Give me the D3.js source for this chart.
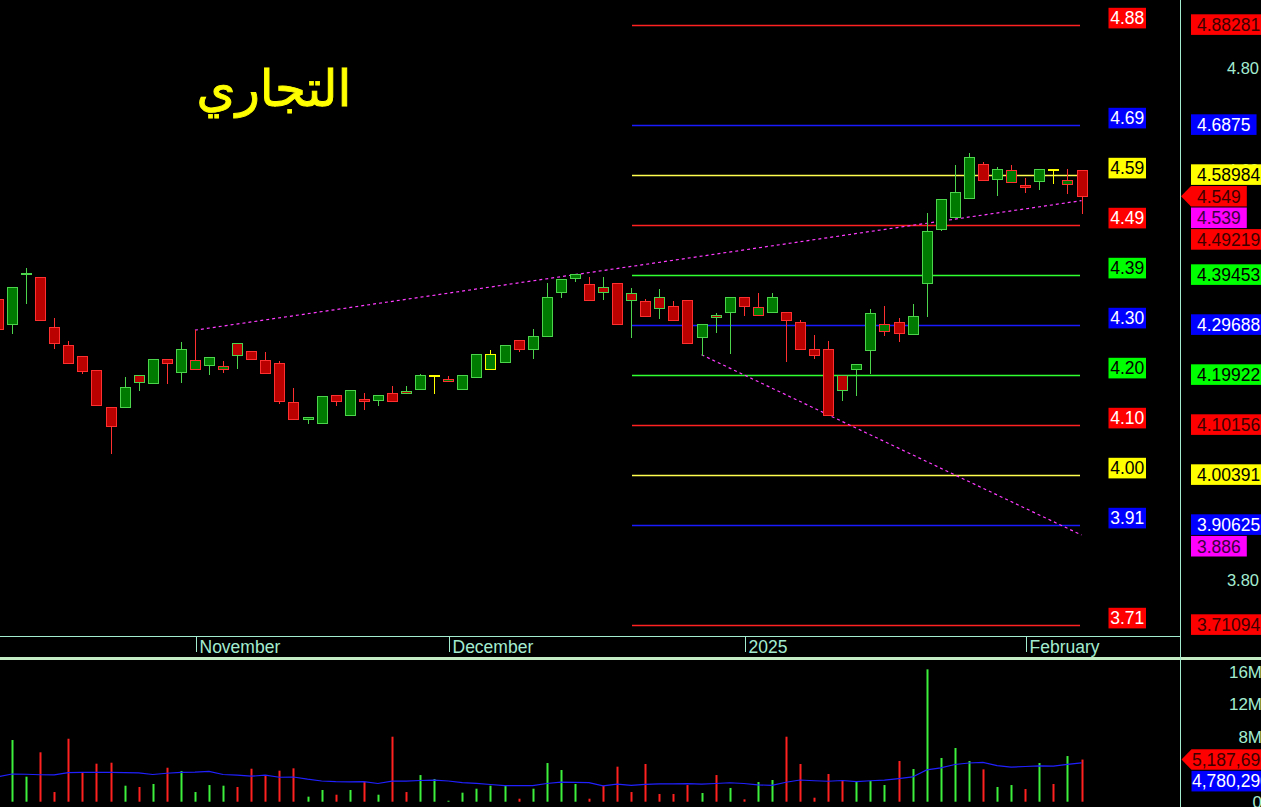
<!DOCTYPE html>
<html><head><meta charset="utf-8">
<script src="https://cdn.jsdelivr.net/npm/d3@7"></script>
<style>html,body{margin:0;padding:0;background:#000;overflow:hidden}svg{display:block}</style>
</head><body>
<svg id="chart" width="1261" height="807"></svg>
<script>
// ---------------- DATA ----------------
const title = "التجاري";
const opens  = [4.347,4.299,4.397,4.390,4.292,4.258,4.235,4.208,4.136,4.135,4.198,4.182,4.229,4.205,4.210,4.217,4.211,4.260,4.245,4.227,4.221,4.145,4.113,4.105,4.159,4.121,4.152,4.150,4.163,4.167,4.172,4.197,4.187,4.172,4.195,4.210,4.224,4.267,4.250,4.275,4.361,4.387,4.376,4.370,4.378,4.358,4.342,4.350,4.333,4.345,4.273,4.315,4.322,4.350,4.315,4.322,4.321,4.301,4.249,4.249,4.198,4.210,4.247,4.284,4.301,4.278,4.379,4.483,4.508,4.545,4.611,4.581,4.575,4.570,4.577,4.600,4.571,4.598];
const highs  = [4.350,4.370,4.407,4.390,4.309,4.265,4.235,4.208,4.136,4.194,4.198,4.229,4.229,4.262,4.286,4.233,4.226,4.260,4.245,4.243,4.226,4.174,4.116,4.158,4.159,4.169,4.164,4.159,4.177,4.176,4.201,4.198,4.196,4.198,4.239,4.247,4.258,4.267,4.288,4.379,4.385,4.395,4.389,4.389,4.378,4.368,4.346,4.366,4.342,4.345,4.299,4.319,4.350,4.350,4.358,4.358,4.321,4.305,4.276,4.264,4.198,4.219,4.327,4.333,4.309,4.337,4.514,4.543,4.609,4.632,4.614,4.605,4.609,4.583,4.600,4.600,4.600,4.598];
const lows   = [4.285,4.281,4.340,4.305,4.252,4.222,4.202,4.139,4.047,4.135,4.169,4.182,4.183,4.185,4.210,4.200,4.205,4.213,4.229,4.203,4.144,4.113,4.105,4.105,4.140,4.121,4.133,4.140,4.148,4.163,4.172,4.163,4.187,4.172,4.195,4.210,4.224,4.245,4.232,4.275,4.351,4.383,4.344,4.347,4.299,4.273,4.314,4.309,4.305,4.260,4.238,4.282,4.242,4.315,4.315,4.322,4.225,4.249,4.231,4.120,4.150,4.159,4.202,4.276,4.264,4.278,4.314,4.481,4.508,4.545,4.580,4.550,4.575,4.556,4.562,4.573,4.553,4.514];
const closes = [4.288,4.370,4.398,4.305,4.260,4.222,4.207,4.139,4.099,4.175,4.184,4.229,4.221,4.249,4.227,4.233,4.216,4.238,4.229,4.203,4.148,4.113,4.116,4.158,4.148,4.169,4.148,4.159,4.148,4.163,4.198,4.198,4.191,4.198,4.239,4.239,4.258,4.249,4.274,4.350,4.385,4.395,4.344,4.360,4.299,4.345,4.314,4.329,4.305,4.260,4.299,4.311,4.350,4.334,4.331,4.350,4.305,4.249,4.238,4.120,4.170,4.219,4.319,4.299,4.280,4.313,4.479,4.543,4.555,4.624,4.580,4.600,4.598,4.565,4.600,4.600,4.579,4.549];
// volume in millions of shares
const volumes = [3.0,7.59,3.08,6.08,1.19,7.75,3.61,4.68,4.80,1.97,1.81,2.18,4.18,3.78,1.19,2.05,1.97,1.81,4.06,3.2,3.82,4.11,0.62,1.44,0.86,1.44,2.46,0.86,8.0,1.19,3.28,2.79,0.12,1.11,1.6,1.97,2.05,0.37,1.6,4.76,3.9,2.18,0.37,1.97,4.31,1.19,4.64,0.95,0.95,2.05,1.07,3.28,1.69,0.29,2.42,2.67,8.0,4.64,0.49,3.41,2.67,2.55,2.55,2.05,5.01,4.02,16.29,5.38,6.61,5.01,3.98,1.81,2.05,1.56,4.76,2.18,5.62,5.18769];
const volumeAvg = [3.08,3.41,3.38,3.32,3.30,3.58,3.62,3.62,3.60,3.58,3.55,3.35,3.50,3.62,3.65,3.73,3.35,3.27,3.14,3.27,3.01,3.04,2.77,2.55,2.47,2.45,2.47,2.24,2.53,2.53,2.61,2.66,2.55,2.35,2.25,2.12,1.99,1.97,1.98,2.24,2.40,2.39,2.35,1.95,2.16,2.02,2.14,2.20,2.19,2.22,2.16,2.24,2.33,2.24,2.08,2.00,2.39,2.67,2.58,2.52,2.61,2.48,2.58,2.66,2.85,3.05,3.92,4.16,4.58,4.76,4.84,4.43,4.26,4.33,4.42,4.39,4.59,4.78029];
const monthLabels = ["November","December","2025","February"];
const monthIndex  = [14,32,53,73];
const fibLevels = [4.88281,4.6875,4.58984,4.49219,4.39453,4.29688,4.19922,4.10156,4.00391,3.90625,3.71094];
const fibKinds  = ["r","b","y","r","g","b","g","r","y","b","r"];
const priceTicks = [3.8,4.6,4.8];      // the other tick labels are hidden behind value boxes
const volTicks = [0,8,12,16];
const upperTrend = [[14,4.286],[77,4.539]];
const lowerTrend = [[50,4.238],[77,3.886]];

// ---------------- STYLE ----------------
const MINT = "#a4ecd0";
const FONT = "'Liberation Sans', Arial, sans-serif";
const lineCol = {r:"#ff2020", b:"#1a1aff", y:"#ffff50", g:"#30ff30"};
const boxCol  = {r:"#ff0000", b:"#0000ff", y:"#ffff00", g:"#00ff00", m:"#ff00ff"};
const leftTxt = {r:"#ffffff", b:"#ffffff", y:"#000000", g:"#000000"};
const rightTxt= {r:"#3c0000", b:"#ffffff", y:"#000000", g:"#000000", m:"#3c003c"};
const GREEN_FILL="#007a00", GREEN_LINE="#4cd44c", RED_FILL="#bb0000", RED_LINE="#ff3030", YEL="#ffff00";
const VOL_G="#3cf03c", VOL_R="#ff2020";

const W=1261, H=807, PLOT_R=1180, PRICE_B=636, VOL_T=660;
const svg = d3.select("#chart");
svg.append("rect").attr("width",W).attr("height",H).attr("fill","#000");

const x = d3.scaleLinear().domain([0,77]).range([-2.07,1081.5]);
const y = d3.scaleLinear().domain([3.8,4.8]).range([579,67]);
const yv = d3.scaleLinear().domain([0,16]).range([801.7,671.7]);

const defs = svg.append("defs");
defs.append("clipPath").attr("id","cp").append("rect").attr("x",0).attr("y",0).attr("width",PLOT_R).attr("height",PRICE_B);
defs.append("clipPath").attr("id","cv").append("rect").attr("x",0).attr("y",VOL_T).attr("width",PLOT_R).attr("height",H-VOL_T);
defs.append("clipPath").attr("id","ca").append("rect").attr("x",PLOT_R+1).attr("y",0).attr("width",W-PLOT_R).attr("height",PRICE_B);

const pg = svg.append("g").attr("clip-path","url(#cp)");

// title
const tt = pg.append("text").text(title).attr("x",274).attr("y",106)
  .attr("text-anchor","middle").attr("fill","#ffff00").attr("stroke","#ffff00").attr("stroke-width",0.9)
  .attr("font-family","'DejaVu Sans', sans-serif").attr("font-size",48);
const tw = tt.node().getBBox().width;
if (tw>0) tt.attr("font-size", 48*155/tw);

// fib lines + left labels
fibLevels.forEach((v,k)=>{
  const yy = Math.round(y(v))+0.5;
  pg.append("line").attr("x1",632).attr("x2",1080).attr("y1",yy).attr("y2",yy)
    .attr("stroke",lineCol[fibKinds[k]]).attr("stroke-width",1.5);
  const cy = y(v)-6.5;
  pg.append("rect").attr("x",1108.5).attr("y",cy-10.3).attr("width",37.5).attr("height",20.6)
    .attr("fill",boxCol[fibKinds[k]]);
  pg.append("text").text(v.toFixed(2)).attr("x",1127.2).attr("y",cy).attr("dy","0.36em")
    .attr("text-anchor","middle").attr("font-family",FONT).attr("font-size",17.5)
    .attr("fill",leftTxt[fibKinds[k]]);
});

// trend lines
const trendLine = d3.line().x(d=>x(d[0])).y(d=>y(d[1]));
[upperTrend, lowerTrend].forEach(t=>{
  pg.append("path").attr("d",trendLine(t)).attr("fill","none").attr("stroke","#ff3cff")
    .attr("stroke-width",1.2).attr("stroke-dasharray","3,3");
});

// candles
const cg = pg.append("g");
closes.forEach((c,i)=>{
  const o=opens[i], h=highs[i], l=lows[i];
  const prev = i>0 ? closes[i-1] : o;
  const border = c>prev ? GREEN_LINE : (c<prev ? RED_LINE : YEL);
  const fill = c>o ? GREEN_FILL : (c<o ? RED_FILL : border);
  const cx = Math.round(x(i));
  cg.append("line").attr("x1",cx+0.5).attr("x2",cx+0.5)
    .attr("y1",Math.round(y(h))).attr("y2",Math.round(y(l))+1)
    .attr("stroke",border).attr("stroke-width",1);
  const t = Math.round(y(Math.max(o,c)))+0.5;
  let b = Math.round(y(Math.min(o,c)))+0.5;
  if (b-t<1) b=t+1;
  cg.append("rect").attr("x",cx-5+0.5).attr("y",t).attr("width",10).attr("height",b-t)
    .attr("fill",fill).attr("stroke",border).attr("stroke-width",1);
});

// volume
const vg = svg.append("g").attr("clip-path","url(#cv)");
volumes.forEach((v,i)=>{
  const cx = Math.round(x(i));
  vg.append("rect").attr("x",cx-0.5).attr("y",yv(v)).attr("width",2).attr("height",yv(0)-yv(v))
    .attr("fill", closes[i]>opens[i] ? VOL_G : VOL_R);
});
vg.append("path").attr("d", d3.line().x((d,i)=>x(i)).y(d=>yv(d))(volumeAvg))
  .attr("fill","none").attr("stroke","#2020ff").attr("stroke-width",1.2);

// frame
svg.append("line").attr("x1",0).attr("x2",PLOT_R).attr("y1",636.5).attr("y2",636.5).attr("stroke",MINT);
svg.append("line").attr("x1",0).attr("x2",W).attr("y1",658.5).attr("y2",658.5).attr("stroke","#c4ecc4").attr("stroke-width",3);
svg.append("line").attr("x1",PLOT_R+0.5).attr("x2",PLOT_R+0.5).attr("y1",0).attr("y2",H).attr("stroke",MINT);

// month axis
monthLabels.forEach((m,k)=>{
  const tx = Math.round(x(monthIndex[k]))+1.5;
  svg.append("line").attr("x1",tx).attr("x2",tx).attr("y1",637).attr("y2",652).attr("stroke",MINT);
  svg.append("text").text(m).attr("x",tx+3).attr("y",653).attr("font-family",FONT)
    .attr("font-size",17.5).attr("fill",MINT);
});

// axis tick labels (drawn first, value boxes cover them)
const tickG = svg.append("g").attr("clip-path","url(#ca)");
priceTicks.forEach(v=>{
  tickG.append("text").text(v.toFixed(2)).attr("x",1259).attr("y",y(v)+1).attr("dy","0.36em")
    .attr("text-anchor","end").attr("font-family",FONT).attr("font-size",16.5).attr("fill",MINT);
});
const vtG = svg.append("g");
volTicks.forEach(v=>{
  vtG.append("text").text(v===0?"0":v+"M").attr("x",1262).attr("y",yv(v)).attr("dy","0.36em")
    .attr("text-anchor","end").attr("font-family",FONT).attr("font-size",17).attr("fill",MINT);
});

// right-side value boxes (pushed down when overlapping)
const boxG = svg.append("g");
const last = closes.length-1;
const boxes = fibLevels.map((v,k)=>({v, txt:String(v), kind:fibKinds[k], arrow:false}));
boxes.push({v:closes[last], txt:String(closes[last]), kind:"r", arrow:true});
boxes.push({v:upperTrend[1][1], txt:String(upperTrend[1][1]), kind:"m", arrow:false});
boxes.push({v:lowerTrend[1][1], txt:String(lowerTrend[1][1]), kind:"m", arrow:false});
boxes.sort((a,b)=>b.v-a.v);
const BH=20.6;
let prevBottom=-1e9;
boxes.forEach(bx=>{
  let top = y(bx.v)-BH/2;
  if (top < prevBottom+1) top = prevBottom+1;
  prevBottom = top+BH;
  const g = boxG.append("g");
  const shape = bx.arrow ? g.append("path") : g.append("rect");
  const t = g.append("text").text(bx.txt).attr("x",1197).attr("y",top+BH/2).attr("dy","0.36em")
    .attr("font-family",FONT).attr("font-size",17.5).attr("fill",rightTxt[bx.kind]);
  const w = t.node().getComputedTextLength()+12;
  if (bx.arrow) {
    shape.attr("d",`M1181,${top+BH/2}L1191,${top}H${1191+w}V${top+BH}H1191Z`).attr("fill",boxCol[bx.kind]);
  } else {
    shape.attr("x",1191).attr("y",top).attr("width",w).attr("height",BH).attr("fill",boxCol[bx.kind]);
  }
});

// volume value boxes
const fmt = d3.format(",.0f");
const vTop = yv(volumes[last])-BH/2;
boxG.append("path").attr("d",`M1181.5,${vTop+BH/2}L1191.5,${vTop}H1270V${vTop+BH}H1191.5Z`).attr("fill",boxCol.r);
boxG.append("text").text(fmt(volumes[last]*1e6)).attr("x",1192).attr("y",vTop+BH/2).attr("dy","0.36em")
  .attr("font-family",FONT).attr("font-size",17.5).attr("fill",rightTxt.r);
let aTop = yv(volumeAvg[last])-BH/2;
if (aTop < vTop+BH+1) aTop = vTop+BH+1;
boxG.append("rect").attr("x",1191.5).attr("y",aTop).attr("width",80).attr("height",BH).attr("fill",boxCol.b);
boxG.append("text").text(fmt(volumeAvg[last]*1e6)).attr("x",1192).attr("y",aTop+BH/2).attr("dy","0.36em")
  .attr("font-family",FONT).attr("font-size",17.5).attr("fill","#ffffff");
</script>
</body></html>
